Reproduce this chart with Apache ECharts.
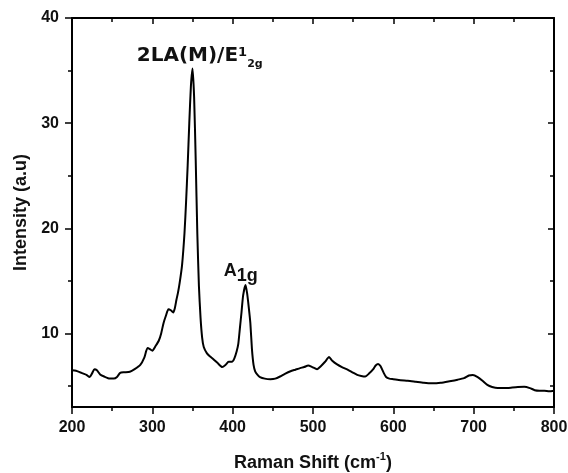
<!DOCTYPE html>
<html><head><meta charset="utf-8">
<script src="https://cdn.jsdelivr.net/npm/echarts@6/dist/echarts.min.js"></script>
<style>html,body{margin:0;padding:0;background:#fff}#c{width:568px;height:473px}</style>
</head><body><div id="c"></div>
<script>
// Raman shift (cm-1)
const ramanShift = [200,205,210,215,218,222,225,228,231,235,240,247,252,256,260,265,272,278,285,290,294,297,300,304,308,311,314,317,320,323,326,328,330,332,334,337,340,342,344,346,348,350,352,354,356,358,360,362,364,368,372,376,381,387,391,395,399,402,405,407,409,411,413,416,418,420,422,424,426,428,431,434,440,447,453,459,465,472,478,484,489,494,499,505,510,515,520,524,530,536,543,549,555,560,565,570,575,578,581,584,588,591,595,600,609,618,628,638,648,659,670,680,688,694,699,705,711,717,723,730,736,742,748,755,763,770,776,782,788,794,800];
// Intensity (a.u)
const intensity = [6.5,6.45,6.3,6.15,6.05,5.85,6.2,6.6,6.5,6.1,5.9,5.7,5.7,5.85,6.25,6.3,6.35,6.6,7.0,7.7,8.6,8.5,8.35,8.8,9.3,10.0,11.0,11.7,12.3,12.2,12.0,12.4,13.2,13.9,14.8,16.5,19.5,22.5,26.0,30.0,33.5,35.2,32.5,26.5,19.5,14.5,11.5,9.6,8.7,8.1,7.8,7.55,7.2,6.8,7.0,7.3,7.3,7.6,8.3,9.0,10.5,12.0,13.6,14.6,13.8,12.5,11.0,8.5,7.0,6.4,6.05,5.85,5.7,5.65,5.7,5.9,6.15,6.4,6.55,6.7,6.8,6.95,6.8,6.6,6.9,7.3,7.75,7.4,7.05,6.8,6.55,6.3,6.05,5.95,5.9,6.2,6.6,6.95,7.1,6.9,6.25,5.85,5.7,5.65,5.55,5.5,5.4,5.3,5.25,5.3,5.45,5.6,5.75,6.0,6.05,5.85,5.5,5.1,4.9,4.8,4.8,4.8,4.85,4.9,4.93,4.8,4.6,4.55,4.55,4.5,4.55];

const xMin = 200, xMax = 800, xStep = 100;
const yMin = 3, yMax = 40;
const yTicks = [10, 20, 30, 40];
const yMinorTicks = [5, 15, 25, 35];

const xTitle = 'Raman Shift (cm{sup|-1})';
const yTitle = 'Intensity (a.u)';
// peak annotations: [label, x, y] in data units
const peakNotes = [
  ['{m|2LA(M)/E}{sp|1}{sb|2g}', 359, 36.4],
  ['{m|A}{sb|1g}', 410, 15.9]
];

const FONT = '"Liberation Sans", Arial, sans-serif';
const NOTE_FONT = '"DejaVu Sans", sans-serif';
const black = '#000';

const chart = echarts.init(document.getElementById('c'), null, {renderer: 'canvas'});

const baseAxis = {
  splitLine: {show: false},
  minorSplitLine: {show: false}
};

const option = {
  animation: false,
  backgroundColor: '#fff',
  grid: {left: 72, right: 14, top: 18, bottom: 66, containLabel: false, outerBoundsMode: 'none'},
  xAxis: [
    Object.assign({}, baseAxis, {
      type: 'value', min: xMin, max: xMax, interval: xStep, position: 'bottom',
      axisLine: {show: true, onZero: false, lineStyle: {color: black, width: 2}},
      axisTick: {show: true, inside: false, length: 7, lineStyle: {color: black, width: 1.5}},
      minorTick: {show: true, splitNumber: 2, length: 4, lineStyle: {color: black, width: 1.5}},
      axisLabel: {fontSize: 16, fontWeight: 'bold', color: '#111', margin: 13, fontFamily: FONT},
      name: xTitle, nameLocation: 'middle', nameGap: 44,
      nameTextStyle: {fontSize: 18, fontWeight: 'bold', color: '#111', fontFamily: FONT, lineHeight: 24,
        rich: {sup: {fontSize: 11, fontWeight: 'bold', color: '#111', fontFamily: FONT, verticalAlign: 'top', lineHeight: 12}}}
    }),
    Object.assign({}, baseAxis, {
      type: 'value', min: xMin, max: xMax, interval: xStep, position: 'top',
      axisLine: {show: true, onZero: false, lineStyle: {color: black, width: 2}},
      axisTick: {show: true, inside: true, length: 6, lineStyle: {color: black, width: 1.5}},
      minorTick: {show: true, splitNumber: 2, length: 4, lineStyle: {color: black, width: 1.5}},
      axisLabel: {show: false}
    })
  ],
  yAxis: [
    Object.assign({}, baseAxis, {
      type: 'value', min: yMin, max: yMax, position: 'left',
      axisLine: {show: true, onZero: false, lineStyle: {color: black, width: 2}},
      axisTick: {show: true, inside: false, length: 7, customValues: yTicks, lineStyle: {color: black, width: 1.5}},
      axisLabel: {fontSize: 16, fontWeight: 'bold', color: '#111', margin: 13, fontFamily: FONT, customValues: yTicks},
      name: yTitle, nameLocation: 'middle', nameGap: 40,
      nameTextStyle: {fontSize: 18, fontWeight: 'bold', color: '#111', fontFamily: FONT}
    }),
    Object.assign({}, baseAxis, {
      type: 'value', min: yMin, max: yMax, position: 'left',
      axisLine: {show: false},
      axisTick: {show: true, inside: false, length: 4, customValues: yMinorTicks, lineStyle: {color: black, width: 1.5}},
      axisLabel: {show: false}
    }),
    Object.assign({}, baseAxis, {
      type: 'value', min: yMin, max: yMax, position: 'right',
      axisLine: {show: true, onZero: false, lineStyle: {color: black, width: 2}},
      axisTick: {show: true, inside: true, length: 6, customValues: yTicks, lineStyle: {color: black, width: 1.5}},
      axisLabel: {show: false}
    }),
    Object.assign({}, baseAxis, {
      type: 'value', min: yMin, max: yMax, position: 'right',
      axisLine: {show: false},
      axisTick: {show: true, inside: true, length: 4, customValues: yMinorTicks, lineStyle: {color: black, width: 1.5}},
      axisLabel: {show: false}
    })
  ],
  series: [{
    type: 'line',
    xAxisIndex: 0, yAxisIndex: 0,
    data: ramanShift.map((x, i) => [x, intensity[i]]),
    showSymbol: false,
    smooth: 0.2,
    lineStyle: {color: '#000', width: 2},
    markPoint: {
      symbol: 'circle', symbolSize: 0, silent: true,
      label: {show: true, position: 'inside', color: '#111', fontWeight: 'bold'},
      data: [
        {coord: [peakNotes[0][1], peakNotes[0][2]], label: {formatter: peakNotes[0][0], lineHeight: 32,
          rich: {
            m: {fontSize: 20, fontWeight: 'bold', color: '#111', fontFamily: NOTE_FONT, lineHeight: 32},
            sp: {fontSize: 13, fontWeight: 'bold', color: '#111', fontFamily: NOTE_FONT, verticalAlign: 'top', padding: [6, 0, 0, 0]},
            sb: {fontSize: 11, fontWeight: 'bold', color: '#111', fontFamily: NOTE_FONT, verticalAlign: 'bottom', padding: [0, 0, 2, 0]}
          }}},
        {coord: [peakNotes[1][1], peakNotes[1][2]], label: {formatter: peakNotes[1][0], lineHeight: 28,
          rich: {
            m: {fontSize: 18, fontWeight: 'bold', color: '#111', fontFamily: FONT, lineHeight: 28},
            sb: {fontSize: 18, fontWeight: 'bold', color: '#111', fontFamily: FONT, verticalAlign: 'bottom', lineHeight: 18}
          }}}
      ]
    }
  }]
};
chart.setOption(option);
</script></body></html>
